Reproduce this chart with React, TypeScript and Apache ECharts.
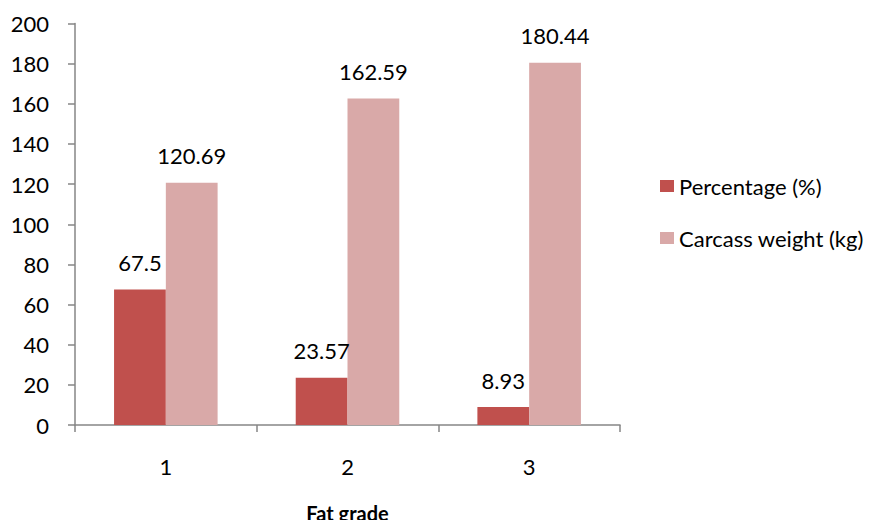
import React, { useEffect, useRef } from "react";
import * as echarts from "echarts";

// Fat grade categories and the two measured series
const fatGrades = ["1", "2", "3"];
const percentage = [67.5, 23.57, 8.93];
const carcassWeight = [120.69, 162.59, 180.44];
const seriesNames = ["Percentage (%)", "Carcass weight (kg)"];
const axisTitle = "Fat grade";

const FONT = "Lato, 'Open Sans', 'Noto Sans', sans-serif";

export default function App() {
  const ref = useRef<HTMLDivElement>(null);

  useEffect(() => {
    if (!ref.current) return;
    const chart = echarts.init(ref.current, null, { renderer: "svg" });
    const labelStyle = {
      show: true,
      position: "top" as const,
      distance: 16,
      color: "#000",
      fontSize: 22,
      fontFamily: FONT,
    };
    chart.setOption({
      animation: false,
      backgroundColor: "#fff",
      textStyle: { fontFamily: FONT },
      grid: { left: 75, right: 264, top: 23.5, bottom: 103, outerBoundsMode: "none" },
      legend: {
        orient: "vertical",
        left: 660,
        top: 173,
        padding: 0,
        itemWidth: 14,
        itemHeight: 12,
        itemGap: 26,
        icon: "rect",
        textStyle: { fontSize: 22, lineHeight: 26, color: "#000", fontFamily: FONT },
        data: seriesNames,
      },
      xAxis: {
        type: "category",
        data: fatGrades,
        name: axisTitle,
        nameLocation: "middle",
        nameGap: 77,
        nameTextStyle: { fontSize: 20, lineHeight: 22, fontWeight: "bold", color: "#000", fontFamily: FONT },
        axisLine: { lineStyle: { color: "#868686", width: 1.5 } },
        axisTick: { show: true, length: 7, interval: 0, lineStyle: { color: "#868686", width: 1.5 } },
        axisLabel: { margin: 30, fontSize: 22, color: "#000", fontFamily: FONT },
      },
      yAxis: {
        type: "value",
        min: 0,
        max: 200,
        interval: 20,
        splitLine: { show: false },
        axisLine: { show: true, lineStyle: { color: "#868686", width: 1.5 } },
        axisTick: { show: true, length: 7, lineStyle: { color: "#868686", width: 1.5 } },
        axisLabel: { margin: 26, fontSize: 22, color: "#000", fontFamily: FONT },
      },
      series: [
        {
          name: seriesNames[0],
          type: "bar",
          data: percentage,
          barGap: "0%",
          barCategoryGap: "43%",
          itemStyle: { color: "#C0504D" },
          label: labelStyle,
        },
        {
          name: seriesNames[1],
          type: "bar",
          data: carcassWeight,
          barGap: "0%",
          barCategoryGap: "43%",
          itemStyle: { color: "#D9A9A8" },
          label: labelStyle,
        },
      ],
    });
    return () => chart.dispose();
  }, []);

  return <div ref={ref} style={{ width: 884, height: 528, margin: -8 }} />;
}
